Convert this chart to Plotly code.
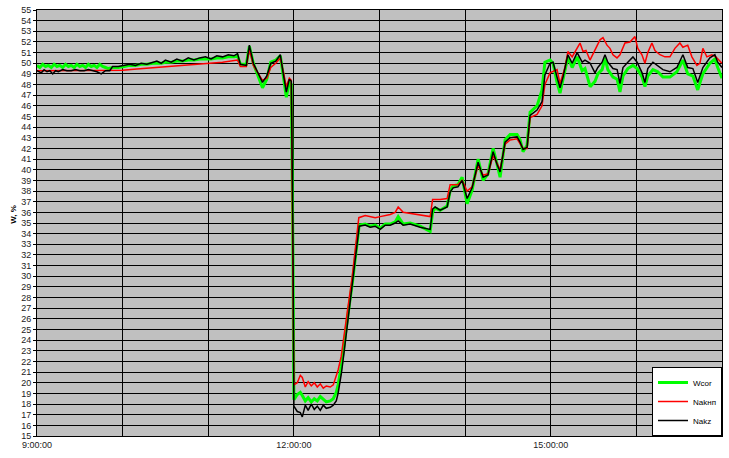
import pandas as pd
import plotly.graph_objects as go

BASE = pd.Timestamp("2000-01-01 09:00:00")

# minutes after 9:00 and values (W, %)
min_wcor = [0, 2, 4, 6, 8, 10, 12, 14, 16, 18, 20, 22, 24, 26, 28, 30, 32, 34, 36, 38, 40, 42, 44, 46, 48, 50, 53,
            57, 61, 65, 69, 73, 77, 81, 84, 87, 90, 94, 98, 102, 106, 110, 114, 118, 122, 126, 130, 134, 138, 140.5,
            142.5, 146.7, 148.8, 151.6, 155, 158, 161, 163.8, 167.3, 170.5, 172.6, 174.7, 176.8, 178.2, 179.3,
            180.0, 182.4, 184.5, 185.9, 188, 190, 192.2, 194.3, 196.4, 198.5, 200.6, 202.7, 205.5, 207.6, 209.7,
            211, 213.2, 215.3, 218, 220.9, 223.7, 225.8, 230, 233.5, 237, 240.5, 244, 247.5, 251, 253.1, 256.6,
            261.5, 268.5, 275.5, 277.2, 279, 282.5, 287.4, 289.5, 291.6, 295, 297.9, 301.4, 304.9, 309.1, 312.6,
            316, 319.6, 322.4, 324.5, 328, 331.5, 336.4, 338.5, 340.6, 343.4, 345.5, 350.4, 353.9, 355.9, 359.5,
            361.6, 364.4, 366.5, 368.6, 372, 375, 378.5, 382, 384, 387.6, 391, 393, 396, 398, 400, 403.6, 406.5,
            408.5, 410.6, 414, 417.6, 420.5, 424, 426, 428, 431.6, 435, 438.6, 443.5, 448.4, 452.6, 456, 459.6,
            463, 466.6, 471.5, 475, 477, 480]
val_wcor = [49.8, 49.6, 49.9, 49.7, 49.8, 49.6, 49.9, 49.7, 49.8, 49.6, 49.9, 49.7, 49.8, 49.6, 49.9, 49.7, 49.8,
            49.6, 49.9, 49.7, 49.8, 49.6, 49.9, 49.7, 49.6, 49.5, 49.6,
            49.6, 49.7, 49.8, 49.8, 49.9, 49.9, 50.0, 50.0, 50.0, 50.1, 50.1, 50.2, 50.2, 50.3, 50.3, 50.4, 50.4,
            50.4, 50.5, 50.5, 50.6, 50.6, 50.7,
            49.9, 49.9, 51.6, 50.0, 48.8, 47.7, 48.5, 50.1, 50.3, 50.7, 48.8, 46.8, 48.3, 48.0, 33.0,
            18.4, 18.9, 19.1, 18.8, 18.3, 18.6, 18.2, 18.5, 18.3, 18.7, 18.4, 18.2, 18.3, 18.5, 19.1,
            19.8, 21.5, 23.8, 26.5, 29.3, 32.5, 34.8, 34.9, 34.7, 34.8, 34.5, 34.9, 34.9, 35.1, 35.6, 34.9,
            35.0, 34.7, 34.2, 36.0, 36.4, 36.2, 36.6, 38.0, 38.5, 38.6, 39.3, 36.8, 38.1, 41.0, 39.0,
            39.6, 42.0, 40.5, 39.3, 42.8, 43.3, 43.3, 42.8, 41.7, 42.3, 45.4, 46.0, 47.5, 50.1, 50.3,
            50.0, 48.2, 47.2, 48.5, 50.6, 49.6, 50.6, 49.3, 49.5, 47.8, 48.3, 49.0, 49.4, 50.5, 49.4, 48.7, 48.5,
            47.3, 48.8, 49.5, 49.8, 49.5, 48.7, 47.8, 48.8, 49.4, 49.2, 48.7, 48.7, 49.2, 50.3, 49.0, 48.8,
            47.5, 49.0, 50.0, 50.4, 49.6, 48.6]

min_nakhp = [0, 10, 20, 30, 40, 50, 60, 70, 80, 90, 100, 110, 120, 130, 140.5,
             142.5, 146.7, 148.8, 151.6, 155, 158, 161, 163.8, 167.3, 170.5, 172.6, 174.7, 176.8, 178.2, 179.3,
             180.0, 182.4, 184.5, 185.9, 188, 190, 192.2, 194.3, 196.4, 198.5, 200.6, 202.7, 205.5, 207.6, 209.7,
             211, 213.2, 215.3, 218, 220.9, 223.7, 225.5, 230, 233.5, 237, 240.5, 244, 247.5, 251, 253.1, 256.6,
             261.5, 268.5, 275.5, 277.2, 282.5, 287.4, 289.5, 295, 297.9, 301.4, 304.9, 309.1, 312.6, 316, 319.6,
             322.4, 324.5, 328, 331.5, 336.4, 338.5, 340.6, 343.4, 345.5, 350.4, 353.9, 355.9, 359.5, 364.4,
             366.5, 370, 372, 375, 378.5, 380.5, 382.6, 384.7, 387.5, 391, 394.5, 396.6, 399.4, 401.5, 403.6,
             406.4, 408.5, 412, 415.5, 419, 421, 423.9, 426, 428, 430.9, 433, 436.5, 440, 443.5, 447, 450.5,
             452.6, 456, 458.9, 462.4, 464.5, 466.6, 469.4, 472.9, 475.7, 479.9]
val_nakhp = [49.3, 49.3, 49.3, 49.3, 49.3, 49.3, 49.35, 49.45, 49.55, 49.65, 49.75, 49.85, 49.95, 50.1, 50.3,
             49.7, 49.7, 51.3, 49.8, 49.0, 48.4, 48.6, 49.6, 50.0, 50.5, 49.2, 47.8, 48.6, 48.4, 30.0,
             19.8, 20.0, 20.7, 20.5, 19.6, 20.1, 19.7, 20.0, 19.6, 19.9, 19.5, 19.7, 19.6, 19.8, 20.6,
             21.2, 22.5, 24.8, 27.2, 30.0, 33.5, 35.5, 35.7, 35.6, 35.5, 35.6, 35.7, 35.8, 36.0, 36.5, 36.0,
             35.9, 35.8, 35.6, 37.2, 37.2, 37.3, 38.6, 38.6, 39.0, 38.0, 38.4, 40.4, 39.5, 39.6, 41.3,
             40.6, 40.0, 42.4, 42.8, 42.9, 42.5, 42.0, 42.0, 44.9, 45.2, 46.0, 48.0, 49.1, 49.4,
             48.1, 49.6, 51.1, 50.6, 51.5, 51.9, 51.1, 51.2, 50.3, 51.2, 52.2, 52.4, 51.7, 51.4, 50.8,
             50.5, 50.8, 51.9, 52.0, 52.5, 51.4, 50.8, 50.0, 51.0, 51.9, 51.2, 50.8, 50.6, 50.6, 51.4, 51.9,
             51.5, 51.7, 50.6, 49.8, 50.0, 51.4, 50.6, 50.8, 50.6, 50.0]

min_nakz = [0, 3, 5, 7, 9, 11, 13, 15, 18, 21, 24, 27, 30, 33, 36, 39, 42, 45, 48, 51, 53,
            57, 61, 65, 69, 73, 77, 81, 84, 87, 90, 94, 98, 102, 106, 110, 114, 118, 122, 126, 130, 134, 138, 140.5,
            142.5, 146.7, 148.8, 151.6, 155, 158, 161, 163.8, 167.3, 170.5, 172.6, 174.7, 176.8, 178.2, 179.3,
            180.0, 182.4, 184.5, 185.9, 188, 190, 192.2, 194.3, 196.4, 198.5, 200.6, 202.7, 205.5, 207.6, 209.7,
            211, 213.2, 215.3, 218, 220.9, 223.7, 225.8, 230, 233.5, 237, 240.5, 244, 247.5, 251, 253.1, 256.6,
            261.5, 268.5, 275.5, 277.2, 279, 282.5, 287.4, 289.5, 291.6, 295, 297.9, 301.4, 304.9, 309.1, 312.6,
            316, 319.6, 322.4, 324.5, 328, 331.5, 336.4, 338.5, 340.6, 343.4, 345.5, 350.4, 353.9, 355.9, 359.5,
            361.6, 364.4, 366.5, 368.6, 372, 375, 378.5, 382, 384, 387.6, 391, 393, 396, 398, 400, 403.6, 406.5,
            408.5, 410.6, 414, 417.6, 420.5, 424, 426, 428, 431.6, 435, 438.6, 443.5, 448.4, 452.6, 456, 459.6,
            463, 466.6, 471.5, 475, 477, 480]
val_nakz = [49.3, 49.1, 49.4, 49.2, 49.3, 49.0, 49.3, 49.2, 49.4, 49.3, 49.3, 49.4, 49.3, 49.3, 49.4, 49.3, 49.2,
            49.0, 49.3, 49.3, 49.7,
            49.7, 49.8, 49.9, 49.8, 50.0, 49.9, 50.1, 50.2, 50.0, 50.3, 50.1, 50.4, 50.2, 50.5, 50.3, 50.5, 50.6,
            50.4, 50.7, 50.6, 50.8, 50.7, 50.9,
            49.9, 49.8, 51.7, 50.0, 49.0, 48.2, 48.8, 50.0, 50.2, 50.8, 49.0, 47.3, 48.5, 48.3, 35.0,
            17.8, 17.3, 17.2, 16.8, 17.9, 17.4, 18.0, 17.5, 17.8, 17.4, 17.9, 17.6, 17.7, 17.9, 18.3,
            19.0, 20.8, 23.0, 26.0, 28.9, 32.2, 34.7, 34.8, 34.6, 34.7, 34.4, 34.8, 34.8, 35.0, 35.2, 34.8,
            34.9, 34.6, 34.4, 36.3, 36.5, 36.2, 36.5, 37.9, 38.3, 38.4, 39.0, 37.3, 38.3, 40.7, 39.3,
            39.5, 41.7, 40.5, 39.8, 42.6, 43.0, 43.1, 42.6, 41.9, 42.1, 45.1, 45.6, 46.4, 48.9, 50.0,
            50.1, 48.7, 47.7, 48.7, 50.8, 50.0, 51.0, 50.1, 50.3, 50.0, 49.1, 49.6, 50.1, 50.8, 50.1, 49.5, 49.4,
            48.1, 49.6, 50.1, 50.6, 50.1, 49.1, 48.2, 49.5, 50.1, 49.8, 49.4, 49.2, 49.6, 50.8, 49.6, 49.5,
            48.2, 49.6, 50.5, 50.8, 50.1, 49.6]

series = [
    ("Wcor", min_wcor, val_wcor, "#00FF00", 3),
    ("Nakнп", min_nakhp, val_nakhp, "#FF0000", 1.5),
    ("Nakz", min_nakz, val_nakz, "#000000", 1.5),
]


def to_time(mins):
    return [BASE + pd.Timedelta(minutes=m) for m in mins]


fig = go.Figure()
for i, (name, mins, vals, color, w) in enumerate(series):
    fig.add_trace(go.Scatter(x=to_time(mins), y=vals, name=name, mode="lines",
                             line=dict(color=color, width=w)))

fig.update_layout(
    width=729, height=458,
    margin=dict(l=37, r=7, t=10, b=22, autoexpand=False),
    paper_bgcolor="white", plot_bgcolor="#C0C0C0",
    font=dict(family="Liberation Sans, Arial", size=9, color="#222222"),
    showlegend=True,
    legend=dict(x=1, xanchor="right", y=0, yanchor="bottom", bgcolor="white",
                bordercolor="#000000", borderwidth=1, itemwidth=30,
                font=dict(size=8, color="#000000"), traceorder="normal"),
)
fig.update_xaxes(
    type="date", automargin=False,
    range=[BASE, BASE + pd.Timedelta(hours=8)],
    tick0=BASE, dtick=3 * 3600 * 1000, tickformat="%-H:%M:%S",
    showgrid=True, gridcolor="#000000", gridwidth=1,
    minor=dict(dtick=3600 * 1000, showgrid=True, gridcolor="#000000", gridwidth=1),
    showline=True, linecolor="#000000", linewidth=1, mirror=True,
    ticks="", zeroline=False,
)
fig.update_yaxes(
    range=[15, 55], dtick=1, tick0=15, automargin=False,
    showgrid=True, gridcolor="#000000", gridwidth=1,
    showline=True, linecolor="#000000", linewidth=1, mirror=True,
    ticks="outside", ticklen=3, tickcolor="#000000", zeroline=False,
)
fig.add_annotation(text="<b>W, %</b>", x=-0.025, y=0.52, xref="paper", yref="paper",
                   xanchor="right", textangle=-90, showarrow=False, font=dict(size=8, color="#000000"))

fig.write_html("out.html", post_script="document.body.style.margin='0';",
               config={"displayModeBar": False})
